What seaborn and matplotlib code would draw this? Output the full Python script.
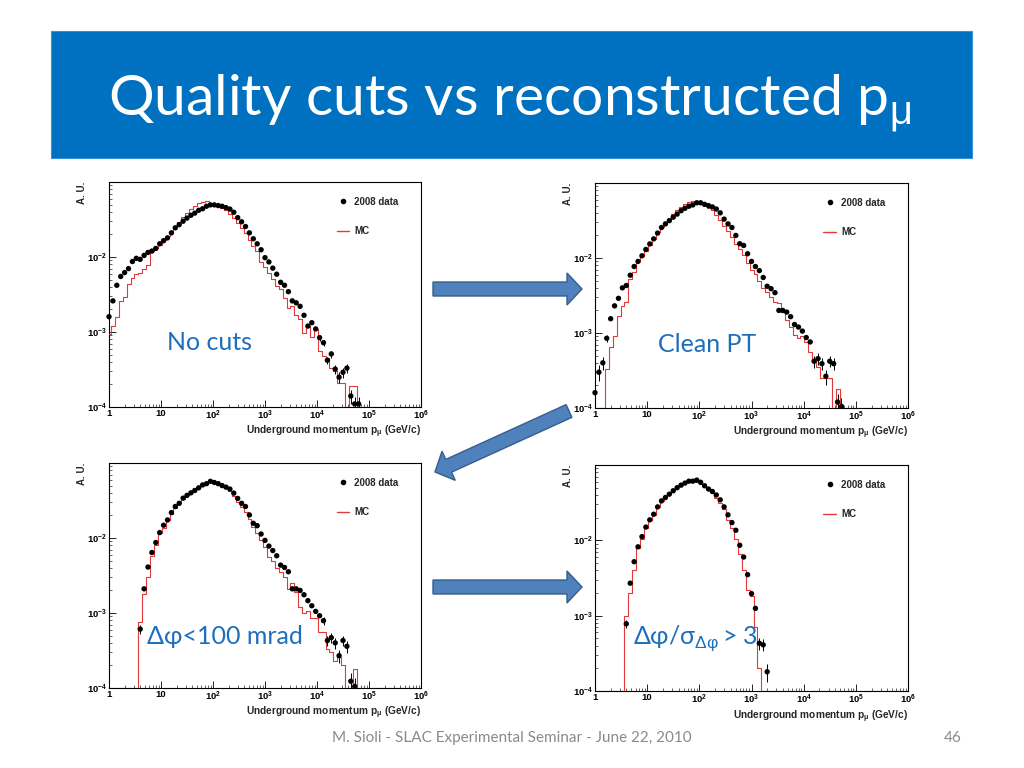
import numpy as np
import pandas as pd
import matplotlib
matplotlib.use("Agg")
import matplotlib.pyplot as plt
from matplotlib.patches import Rectangle, FancyArrow
from matplotlib.lines import Line2D
from matplotlib.ticker import LogLocator, NullFormatter
import seaborn as sns

# ---------------------------------------------------------------------------
# binning of the ROOT histograms: 80 bins of 0.075 decade, centred on
# log10(p) = k * 0.075
# ---------------------------------------------------------------------------
BIN_W = 0.075
N_BINS = 80
Y_MIN, Y_MAX = 1e-4, 0.1

# --- panel 1: no cuts -------------------------------------------------------
DATA1_START = 0
DATA1 = [1.6e-3, 2.6e-3, 4.2e-3, 5.5e-3, 6.2e-3, 7.0e-3, 8.7e-3, 9.6e-3, 9.3e-3,
         1.05e-2, 1.15e-2, 1.2e-2, 1.3e-2, 1.5e-2, 1.65e-2, 1.8e-2, 2.1e-2,
         2.45e-2, 2.7e-2, 3.0e-2, 3.3e-2, 3.6e-2, 3.85e-2, 4.2e-2, 4.4e-2,
         4.75e-2, 4.95e-2, 4.95e-2, 4.85e-2, 4.75e-2, 4.55e-2, 4.35e-2, 3.95e-2,
         3.35e-2, 2.95e-2, 2.55e-2, 2.1e-2, 1.75e-2, 1.5e-2, 1.25e-2, 9.8e-3,
         8.6e-3, 7.1e-3, 5.9e-3, 4.6e-3, 4.2e-3, 3.45e-3, 2.6e-3, 2.45e-3,
         2.2e-3, 1.67e-3, 1.2e-3, 1.33e-3, 1.1e-3, 8.4e-4, 7.2e-4, 4.2e-4,
         5.1e-4, 3.2e-4, 2.5e-4, 2.9e-4, 3.3e-4, 1.4e-4, 1.1e-4, 1.1e-4]
MC1 = [9.3e-4, 1.2e-3, 1.6e-3, 2.6e-3, 2.9e-3, 4.4e-3, 5.3e-3, 5.9e-3, 6.2e-3,
       7.0e-3, 7.9e-3, 1.2e-2, 1.3e-2, 1.45e-2, 1.7e-2, 1.9e-2, 2.2e-2, 2.6e-2,
       2.9e-2, 3.4e-2, 3.85e-2, 4.3e-2, 4.75e-2, 5.2e-2, 5.4e-2, 5.55e-2, 5.2e-2,
       4.95e-2, 4.8e-2, 4.5e-2, 4.2e-2, 3.8e-2, 3.3e-2, 2.8e-2, 2.4e-2, 2.1e-2,
       1.7e-2, 1.4e-2, 1.2e-2, 8.7e-3, 7.4e-3, 6.2e-3, 5.1e-3, 4.1e-3, 3.7e-3,
       2.8e-3, 2.1e-3, 2.2e-3, 1.7e-3, 1.5e-3, 9.8e-4, 1.2e-3, 8.6e-4, 1.1e-3,
       5.6e-4, 4.8e-4, 4.5e-4, 3.3e-4, 3.0e-4, 2.1e-4, 2.1e-4, 0, 1.9e-4, 1.9e-4]
ERR1_K = [54, 55, 56, 57, 58, 59, 60, 61, 62, 63, 64]
ERR1 = [0.7e-4, 0.65e-4, 0.5e-4, 0.55e-4, 0.45e-4, 0.4e-4, 0.45e-4, 0.45e-4,
        0.3e-4, 0.27e-4, 0.27e-4]

# --- panel 2: clean PT ------------------------------------------------------
DATA2_START = 0
DATA2 = [1.6e-4, 3.0e-4, 4.0e-4, 8.5e-4, 1.55e-3, 2.3e-3, 2.9e-3, 4.0e-3, 4.3e-3,
         5.9e-3, 7.7e-3, 9.0e-3, 1.07e-2, 1.3e-2, 1.54e-2, 1.8e-2, 2.15e-2,
         2.55e-2, 2.85e-2, 3.15e-2, 3.5e-2, 3.85e-2, 4.27e-2, 4.6e-2, 4.9e-2,
         5.1e-2, 5.45e-2, 5.45e-2, 5.2e-2, 5.0e-2, 4.8e-2, 4.5e-2, 4.0e-2, 3.3e-2,
         2.85e-2, 2.55e-2, 2.0e-2, 1.55e-2, 1.47e-2, 1.14e-2, 9.0e-3, 7.7e-3,
         6.8e-3, 5.5e-3, 4.2e-3, 3.9e-3, 3.45e-3, 2.0e-3, 2.0e-3, 1.9e-3, 1.65e-3,
         1.3e-3, 1.2e-3, 1.06e-3, 8.7e-4, 7.6e-4, 4.2e-4, 4.55e-4, 3.9e-4, 2.65e-4,
         4.2e-4, 3.9e-4, 1.2e-4, 1.05e-4]
MC2 = [0, 0, 0, 3.3e-4, 6.5e-4, 9.0e-4, 1.7e-3, 2.3e-3, 2.6e-3, 5.2e-3, 6.5e-3,
       9.0e-3, 1.05e-2, 1.25e-2, 1.5e-2, 1.8e-2, 2.2e-2, 2.6e-2, 2.95e-2, 3.3e-2,
       3.9e-2, 4.3e-2, 4.8e-2, 5.2e-2, 5.5e-2, 5.7e-2, 5.6e-2, 5.3e-2, 5.0e-2,
       4.7e-2, 4.3e-2, 3.8e-2, 3.2e-2, 2.7e-2, 2.3e-2, 1.9e-2, 1.55e-2, 1.3e-2,
       1.1e-2, 8.5e-3, 7.0e-3, 6.2e-3, 5.0e-3, 4.0e-3, 3.5e-3, 3.0e-3, 2.6e-3,
       2.5e-3, 1.9e-3, 1.5e-3, 1.2e-3, 9.5e-4, 8.5e-4, 9.0e-4, 7.5e-4, 5.5e-4,
       4.2e-4, 3.5e-4, 2.5e-4, 2.5e-4, 2.5e-4, 0, 1.8e-4]
ERR2_K = [0, 1, 2, 3, 56, 57, 58, 59, 60, 61, 62, 63]
ERR2 = [0.55e-4, 0.7e-4, 0.75e-4, 0.9e-4, 0.8e-4, 0.8e-4, 0.7e-4, 0.6e-4,
        0.7e-4, 0.7e-4, 0.35e-4, 0.3e-4]

# --- panel 3: dphi < 100 mrad -----------------------------------------------
DATA3_START = 8
DATA3 = [6.1e-4, 2.1e-3, 4.1e-3, 6.4e-3, 8.7e-3, 1.18e-2, 1.48e-2, 1.74e-2,
         2.18e-2, 2.63e-2, 2.9e-2, 3.4e-2, 3.7e-2, 4.0e-2, 4.3e-2, 4.67e-2,
         5.1e-2, 5.3e-2, 5.7e-2, 5.5e-2, 5.3e-2, 5.0e-2, 4.77e-2, 4.5e-2, 3.97e-2,
         3.37e-2, 2.9e-2, 2.63e-2, 2.03e-2, 1.57e-2, 1.46e-2, 1.13e-2, 9.3e-3,
         7.8e-3, 6.8e-3, 5.8e-3, 4.35e-3, 4.05e-3, 3.55e-3, 2.1e-3, 2.1e-3,
         2.0e-3, 1.75e-3, 1.46e-3, 1.25e-3, 1.05e-3, 9.2e-4, 7.9e-4, 4.3e-4,
         4.7e-4, 4.0e-4, 2.7e-4, 4.3e-4, 3.6e-4, 1.23e-4, 1.05e-4]
MC3 = [0, 0, 0, 0, 0, 0, 0, 0, 7.5e-4, 1.8e-3, 3.0e-3, 5.7e-3, 8.0e-3, 1.15e-2,
       1.35e-2, 1.75e-2, 2.1e-2, 2.55e-2, 2.9e-2, 3.3e-2, 3.7e-2, 4.1e-2, 4.6e-2,
       5.0e-2, 5.3e-2, 5.6e-2, 5.7e-2, 5.5e-2, 5.2e-2, 4.9e-2, 4.6e-2, 4.2e-2,
       3.6e-2, 3.0e-2, 2.6e-2, 2.2e-2, 1.8e-2, 1.4e-2, 1.15e-2, 9.5e-3, 7.7e-3,
       5.5e-3, 4.9e-3, 4.0e-3, 3.5e-3, 3.0e-3, 2.1e-3, 2.5e-3, 1.9e-3, 1.2e-3,
       1.0e-3, 1.05e-3, 8.5e-4, 8.5e-4, 5.5e-4, 5.5e-4, 3.3e-4, 3.0e-4, 2.3e-4,
       2.6e-4, 2.0e-4, 0, 0, 1.8e-4]
ERR3_K = [8, 55, 56, 57, 58, 59, 60, 61, 62, 63]
ERR3 = [0.9e-4, 0.9e-4, 0.7e-4, 0.7e-4, 0.7e-4, 0.55e-4, 0.7e-4, 0.65e-4,
        0.35e-4, 0.3e-4]

# --- panel 4: dphi / sigma(dphi) > 3 ----------------------------------------
DATA4_START = 8
DATA4 = [7.8e-4, 2.7e-3, 5.2e-3, 8.2e-3, 1.12e-2, 1.5e-2, 1.87e-2, 2.22e-2,
         2.78e-2, 3.34e-2, 3.7e-2, 4.1e-2, 4.55e-2, 5.0e-2, 5.4e-2, 5.75e-2,
         6.1e-2, 6.1e-2, 6.3e-2, 5.9e-2, 5.3e-2, 4.8e-2, 4.45e-2, 4.0e-2, 3.45e-2,
         2.78e-2, 2.18e-2, 1.72e-2, 1.36e-2, 8.6e-3, 6.0e-3, 3.5e-3, 1.96e-3,
         1.25e-3, 4.3e-4, 4.1e-4, 1.8e-4]
MC4 = [0, 0, 0, 0, 0, 0, 0, 0, 1.0e-3, 2.0e-3, 4.0e-3, 8.0e-3, 1.05e-2, 1.45e-2,
       1.85e-2, 2.2e-2, 2.8e-2, 3.3e-2, 3.8e-2, 4.2e-2, 4.8e-2, 5.3e-2, 5.7e-2,
       6.0e-2, 6.3e-2, 6.2e-2, 6.0e-2, 5.6e-2, 5.1e-2, 4.6e-2, 4.2e-2, 3.7e-2,
       3.1e-2, 2.6e-2, 1.85e-2, 1.45e-2, 1.05e-2, 6.5e-3, 4.0e-3, 2.2e-3, 1.8e-3,
       7.0e-4, 2.0e-4]
ERR4_K = [8, 42, 43, 44]
ERR4 = [1.0e-4, 0.8e-4, 0.75e-4, 0.5e-4]

PANEL_LABELS = ["No cuts", "Clean PT", "\u0394\u03c6<100 mrad",
                "\u0394\u03c6/\u03c3$_{\\mathrm{\u0394\u03c6}}\\,$> 3"]
X_TICKS = [1, 10, 1e2, 1e3, 1e4, 1e5, 1e6]
X_TICK_LABELS = ["1", "10"] + ["$\\mathbf{10^{%d}}$" % e for e in range(2, 7)]
Y_TICKS = [1e-4, 1e-3, 1e-2]
Y_TICK_LABELS = ["$\\mathbf{10^{-%d}}$" % e for e in (4, 3, 2)]

# panel frames in slide pixels: left, top, right, bottom
FRAMES = [(109, 182, 421, 407), (595, 183, 908, 408),
          (109, 463, 421, 688), (595, 465, 908, 691)]
LABEL_POS = [(167, 342), (658, 345), (147, 637), (633, 638)]

W, H = 1024, 768
RED = "#e23a3a"
BLUE_TXT = "#1e6ebe"

sns.set_theme(style="ticks")
plt.rcParams["font.family"] = ["Lato", "Liberation Sans", "DejaVu Sans"]
plt.rcParams["mathtext.fontset"] = "custom"
plt.rcParams["mathtext.rm"] = "Liberation Sans"
plt.rcParams["mathtext.bf"] = "Liberation Sans:bold"
plt.rcParams["mathtext.it"] = "Liberation Sans:italic"
plt.rcParams["mathtext.sf"] = "Liberation Sans"

fig = plt.figure(figsize=(W / 100, H / 100), dpi=100)
fig.patch.set_facecolor("white")

centers = 10 ** (np.arange(N_BINS) * BIN_W)
ROOT_FONT = dict(family="Liberation Sans", weight="bold")


def draw_panel(frame, data, start, mc, err_k, err):
    l, t, r, b = frame
    ax = fig.add_axes([l / W, 1 - b / H, (r - l) / W, (b - t) / H])
    ax.set_xscale("log")
    ax.set_yscale("log")

    mc_full = np.zeros(N_BINS)
    mc_full[:len(mc)] = mc
    df_mc = pd.DataFrame({"p": centers, "au": np.where(mc_full > 0, mc_full, Y_MIN)})
    sns.lineplot(data=df_mc, x="p", y="au", ax=ax, color=RED, lw=0.8,
                 drawstyle="steps-mid", zorder=3)

    df_data = pd.DataFrame({"p": centers[start:start + len(data)], "au": data})
    ax.errorbar(centers[err_k], np.asarray(data)[np.asarray(err_k) - start],
                yerr=err, fmt="none", ecolor="black", elinewidth=0.7, zorder=4)
    sns.scatterplot(data=df_data, x="p", y="au", ax=ax, color="black", s=15,
                    edgecolor="none", zorder=5, legend=False, clip_on=False)

    ax.set_xlim(1, 1e6)
    ax.set_ylim(Y_MIN, Y_MAX)
    ax.set_xticks(X_TICKS)
    ax.set_xticklabels(X_TICK_LABELS, fontsize=6.8, **ROOT_FONT)
    ax.set_yticks(Y_TICKS)
    ax.set_yticklabels(Y_TICK_LABELS, fontsize=6.8, **ROOT_FONT)
    ax.xaxis.set_minor_locator(LogLocator(base=10, subs=np.arange(2, 10), numticks=20))
    ax.yaxis.set_minor_locator(LogLocator(base=10, subs=np.arange(2, 10), numticks=20))
    ax.xaxis.set_minor_formatter(NullFormatter())
    ax.yaxis.set_minor_formatter(NullFormatter())
    ax.tick_params(which="major", direction="in", length=5, width=0.6, pad=1.5,
                   top=False, right=False, colors="black")
    ax.tick_params(which="minor", direction="in", length=2.5, width=0.5,
                   top=False, right=False)
    for sp in ax.spines.values():
        sp.set_linewidth(0.8)
        sp.set_color("black")
    ax.set_xlabel("")
    ax.set_ylabel("")

    ax.text(-0.087, 1.0, "A. U.", rotation=90, transform=ax.transAxes,
            ha="center", va="top", fontsize=7, **ROOT_FONT)
    ax.text(1.0, -0.112, "Underground momentum p$_{\\mathbf{\u03bc}}$ (GeV/c)",
            transform=ax.transAxes, ha="right", va="center", fontsize=7.3,
            **ROOT_FONT)

    handles = [Line2D([], [], marker="o", color="black", ls="none", ms=3),
               Line2D([], [], color=RED, lw=1.0)]
    ax.legend(handles, ["2008 data", "MC"], loc="upper left",
              bbox_to_anchor=(0.73, 0.935), frameon=False, labelspacing=2.0,
              handlelength=1.3, handletextpad=0.5, borderpad=0, borderaxespad=0,
              prop=dict(family="Liberation Sans", weight="bold", size=7))
    return ax


panels = [(DATA1, DATA1_START, MC1, ERR1_K, ERR1),
          (DATA2, DATA2_START, MC2, ERR2_K, ERR2),
          (DATA3, DATA3_START, MC3, ERR3_K, ERR3),
          (DATA4, DATA4_START, MC4, ERR4_K, ERR4)]
for frame, p in zip(FRAMES, panels):
    draw_panel(frame, *p)

# overlay in slide pixel coordinates: banner, arrows, labels, footer
ov = fig.add_axes([0, 0, 1, 1], zorder=10)
ov.set_xlim(0, W)
ov.set_ylim(H, 0)
ov.axis("off")
ov.patch.set_alpha(0)

ov.add_patch(Rectangle((51, 31), 921, 127, fc="#0070c0", ec="#3b8fd6", lw=0.8))
ov.text(108, 115, "Quality cuts vs reconstructed p$_{\\mathrm{\u03bc}}$",
        color="white", fontsize=41, ha="left", va="baseline")

arrow_style = dict(width=14, head_width=32, head_length=15,
                   length_includes_head=True, fc="#4f81bd", ec="#385d8a", lw=1.0)
ov.add_patch(FancyArrow(433, 289, 149, 0, **arrow_style))
ov.add_patch(FancyArrow(569, 411, -134, 61, **arrow_style))
ov.add_patch(FancyArrow(433, 587, 149, 0, **arrow_style))

for (x, y), txt in zip(LABEL_POS, PANEL_LABELS):
    ov.text(x, y, txt, color=BLUE_TXT, fontsize=18, ha="left", va="center")

ov.text(512, 738, "M. Sioli - SLAC Experimental Seminar - June 22, 2010",
        color="#8a8a8a", fontsize=11, ha="center", va="center")
ov.text(953, 738, "46", color="#8a8a8a", fontsize=11, ha="center", va="center")

fig.savefig("out.png", dpi=100)
